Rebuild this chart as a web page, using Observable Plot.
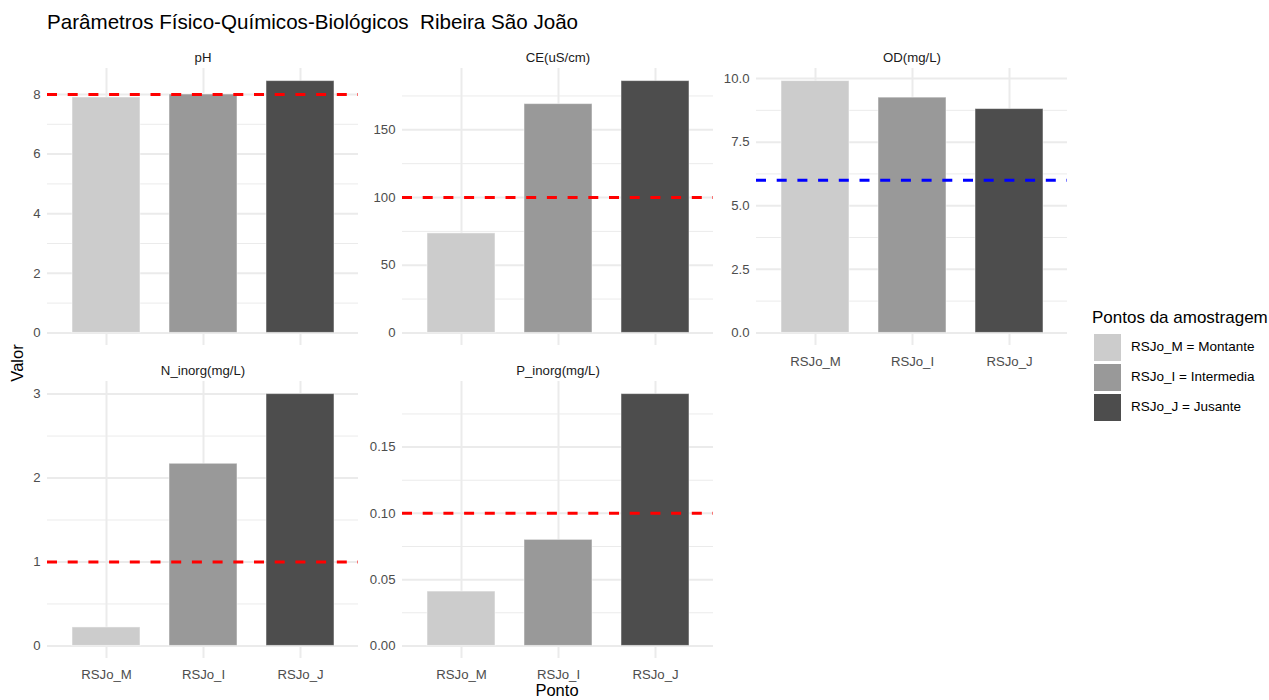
<!DOCTYPE html>
<html><head><meta charset="utf-8">
<script src="https://cdn.jsdelivr.net/npm/d3@7"></script>
<script src="https://cdn.jsdelivr.net/npm/@observablehq/plot@0.6"></script>
<style>
body{margin:0;background:#fff;font-family:"Liberation Sans",Arial,sans-serif}
#root{position:relative;width:1269px;height:700px;overflow:hidden;background:#fff}
.abs{position:absolute;white-space:pre;line-height:1}
.abs svg{display:block}
</style></head>
<body><div id="root"></div>
<script>
// ---- data ----
const pontos = ["RSJo_M", "RSJo_I", "RSJo_J"];
const legendLabels = ["RSJo_M = Montante", "RSJo_I = Intermedia", "RSJo_J = Jusante"];
const pontoColors = ["#CCCCCC", "#999999", "#4D4D4D"];
const parametros = ["pH", "CE(uS/cm)", "OD(mg/L)", "N_inorg(mg/L)", "P_inorg(mg/L)"];
const valoresPH = [7.9, 8.0, 8.45];
const valoresCE = [73.5, 169, 186];
const valoresOD = [9.9, 9.25, 8.8];
const valoresN = [0.22, 2.17, 3.0];
const valoresP = [0.041, 0.08, 0.19];
const limites = [8, 100, 6, 1, 0.1];
const limiteCores = ["#FF0000", "#FF0000", "#0000FF", "#FF0000", "#FF0000"];
const ticksPH = [0, 2, 4, 6, 8];
const minorPH = [1, 3, 5, 7];
const ticksCE = [0, 50, 100, 150];
const minorCE = [25, 75, 125, 175];
const ticksOD = [0, 2.5, 5, 7.5, 10];
const minorOD = [1.25, 3.75, 6.25, 8.75];
const ticksN = [0, 1, 2, 3];
const minorN = [0.5, 1.5, 2.5];
const ticksP = [0, 0.05, 0.1, 0.15];
const minorP = [0.025, 0.075, 0.125, 0.175];
const titulo = "Parâmetros Físico-Químicos-Biológicos  Ribeira São João";
const eixoX = "Ponto";
const eixoY = "Valor";
const legendaTitulo = "Pontos da amostragem";

const FONT = '"Liberation Sans", Arial, sans-serif';
const root = document.getElementById("root");

function addDiv(html, css) {
  const d = document.createElement("div");
  d.className = "abs";
  d.textContent = html;
  Object.assign(d.style, css);
  root.appendChild(d);
  return d;
}

const PW = 311, PH = 277, mL = 47, mT = 25, mB = 30, mR = 4;

function panel(name, values, limit, limitColor, ticks, minor, fmt, showX, px, py) {
  const data = pontos.map((p, i) => ({ponto: p, valor: values[i]}));
  const max = d3.max(values);
  const grid = "#EBEBEB";
  const chart = Plot.plot({
    width: mL + PW + mR, height: mT + PH + mB,
    marginLeft: mL, marginRight: mR, marginTop: mT, marginBottom: mB,
    style: {fontFamily: FONT, fontSize: "13.2px", color: "#4D4D4D", background: "transparent", overflow: "visible"},
    x: {type: "band", domain: pontos, paddingInner: 0.3, paddingOuter: 0.25, axis: null},
    y: {domain: [-0.05 * max, 1.05 * max], axis: null},
    color: {domain: pontos, range: pontoColors},
    marks: [
      Plot.ruleY(minor, {stroke: grid, strokeWidth: 1}),
      Plot.ruleY(ticks, {stroke: grid, strokeWidth: 2}),
      Plot.gridX({stroke: grid, strokeOpacity: 1, strokeWidth: 2}),
      Plot.barY(data, {x: "ponto", y: "valor", fill: "ponto", stroke: "#ffffff", strokeOpacity: 0.5, strokeWidth: 1}),
      Plot.ruleY([limit], {stroke: limitColor, strokeWidth: 3, strokeDasharray: "10,10.7"}),
      Plot.axisY({ticks: ticks, tickFormat: fmt, tickSize: 0, tickPadding: 7, label: null, fill: "#4D4D4D"}),
      showX ? Plot.axisX({tickSize: 0, tickPadding: 11, label: null, fill: "#4D4D4D"}) : null,
      Plot.text([name], {frameAnchor: "top", lineAnchor: "middle", dy: -11, fill: "#1A1A1A", fontSize: 13.2})
    ]
  });
  const holder = addDiv("", {left: (px - mL) + "px", top: (py - mT) + "px"});
  holder.appendChild(chart);
}

const fInt = d3.format("d");
panel(parametros[0], valoresPH, limites[0], limiteCores[0], ticksPH, minorPH, fInt, false, 47, 68);
panel(parametros[1], valoresCE, limites[1], limiteCores[1], ticksCE, minorCE, fInt, false, 402, 68);
panel(parametros[2], valoresOD, limites[2], limiteCores[2], ticksOD, minorOD, d3.format(".1f"), true, 756, 68);
panel(parametros[3], valoresN, limites[3], limiteCores[3], ticksN, minorN, fInt, true, 47, 381);
panel(parametros[4], valoresP, limites[4], limiteCores[4], ticksP, minorP, d3.format(".2f"), true, 402, 381);

// title
addDiv(titulo, {left: "47px", top: "12px", fontSize: "20.6px", color: "#000"});
// axis titles
addDiv(eixoX, {left: "557px", top: "682px", fontSize: "16.5px", color: "#000", transform: "translateX(-50%)"});
addDiv(eixoY, {left: "17px", top: "363px", fontSize: "16.5px", color: "#000", transform: "translate(-50%,-50%) rotate(-90deg)"});
// legend
addDiv(legendaTitulo, {left: "1092px", top: "309px", fontSize: "17px", color: "#000"});
pontos.forEach((p, i) => {
  addDiv("", {left: "1094px", top: (333.5 + 30 * i) + "px", width: "27px", height: "27px", background: pontoColors[i]});
  addDiv(legendLabels[i], {left: "1131px", top: (347 + 30 * i) + "px", fontSize: "13.5px", color: "#000", transform: "translateY(-50%)"});
});
</script></body></html>
